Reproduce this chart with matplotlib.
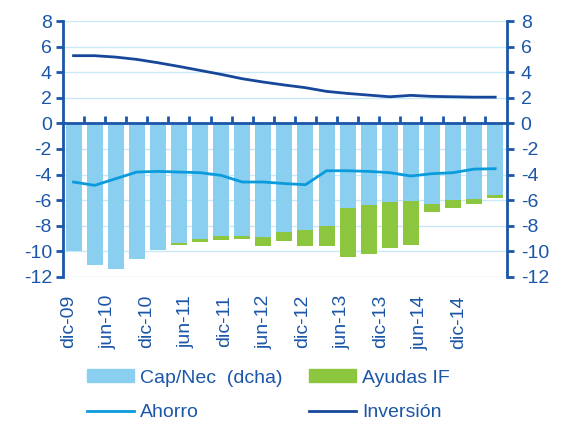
import numpy as np
import matplotlib
matplotlib.use("Agg")
import matplotlib.pyplot as plt
from matplotlib.patches import Patch
from matplotlib.lines import Line2D

plt.rcParams["font.family"] = ["Liberation Sans", "DejaVu Sans"]
plt.rcParams["axes.unicode_minus"] = False

# Quarterly data, dic-09 .. dic-14
cap_nec = [-10.0, -11.1, -11.35, -10.6, -9.87, -9.32, -9.04, -8.83, -8.83, -8.88, -8.49,
           -8.36, -7.99, -6.59, -6.38, -6.12, -6.04, -6.28, -6.02, -5.94, -5.57]
ayudas = [0.0, 0.0, 0.0, 0.0, 0.0, -0.21, -0.2, -0.26, -0.21, -0.68, -0.7,
          -1.2, -1.6, -3.85, -3.8, -3.65, -3.44, -0.62, -0.59, -0.36, -0.23]
ahorro = [-4.58, -4.84, -4.32, -3.8, -3.75, -3.8, -3.85, -4.06, -4.58, -4.58, -4.7,
          -4.79, -3.7, -3.7, -3.75, -3.85, -4.11, -3.93, -3.85, -3.57, -3.54]
inversion = [5.29, 5.29, 5.18, 5.0, 4.74, 4.45, 4.14, 3.83, 3.49, 3.23, 3.0,
             2.79, 2.5, 2.34, 2.21, 2.08, 2.19, 2.11, 2.08, 2.05, 2.05]
tick_labels = ["dic-09", "jun-10", "dic-10", "jun-11", "dic-11", "jun-12",
               "dic-12", "jun-13", "dic-13", "jun-14", "dic-14"]

c_bar = "#8ACFF0"
c_green = "#8CC63E"
c_ahorro = "#0A9BDC"
c_inv = "#17479A"
c_axis = "#1B56A8"
c_grid = "#C8E8F6"

x = np.arange(len(cap_nec))

fig = plt.figure(figsize=(5.65, 4.26), dpi=100)
ax = fig.add_axes([0.1115, 0.3498, 0.7855, 0.6009])

ax.bar(x, cap_nec, width=0.76, color=c_bar, zorder=2)
ax.bar(x, ayudas, width=0.76, bottom=cap_nec, color=c_green, zorder=2)
ax.plot(x, ahorro, color=c_ahorro, lw=2, zorder=3)
ax.plot(x, inversion, color=c_inv, lw=2, zorder=3)
ax.axhline(0, color=c_axis, lw=2, zorder=4)

ax.set_xlim(-0.5, 20.55)
ax.set_ylim(-12, 8)
yt = np.arange(-12, 9, 2)
ax.set_yticks(yt)
ax.grid(axis="y", color=c_grid, lw=1, zorder=0)
ax.set_axisbelow(True)

for s in ["top", "bottom", "right"]:
    ax.spines[s].set_visible(False)
ax.spines["left"].set_color(c_axis)
ax.spines["left"].set_linewidth(2)
ax.tick_params(axis="y", colors=c_axis, labelcolor=c_axis, labelsize=14,
               length=5, width=2, direction="out", pad=3)

# category labels below plot area
ax.set_xticks(np.arange(len(tick_labels)) * 1.85 - 0.22)
ax.set_xticklabels(tick_labels, rotation=90)
ax.tick_params(axis="x", length=0, pad=13, labelsize=14, labelcolor=c_axis)

# category separators on the zero line
sec = ax.secondary_xaxis(0.6)
sec.set_xticks(x[:-1] + 0.5)
sec.tick_params(axis="x", length=5, width=2, color=c_axis, labelbottom=False,
                labeltop=False, direction="out")
for s in sec.spines.values():
    s.set_visible(False)

ax2 = ax.twinx()
ax2.set_ylim(-12, 8)
ax2.set_yticks(yt)
for s in ["top", "bottom", "left"]:
    ax2.spines[s].set_visible(False)
ax2.spines["right"].set_color(c_axis)
ax2.spines["right"].set_linewidth(2)
ax2.tick_params(axis="y", colors=c_axis, labelcolor=c_axis, labelsize=14,
                length=5, width=2, direction="out", pad=5)

handles = [Patch(color=c_bar), Line2D([], [], color=c_ahorro, lw=2),
           Patch(color=c_green), Line2D([], [], color=c_inv, lw=2)]
labels = ["Cap/Nec  (dcha)", "Ahorro", "Ayudas IF", "Inversión"]
leg = fig.legend(handles, labels, ncol=2, loc="center", bbox_to_anchor=(0.475, 0.072),
                 frameon=False, fontsize=14, handlelength=2.4, handleheight=0.65,
                 handletextpad=0.3, columnspacing=1.4, labelspacing=0.9)
for t in leg.get_texts():
    t.set_color(c_axis)

fig.savefig("out.png", dpi=100)
